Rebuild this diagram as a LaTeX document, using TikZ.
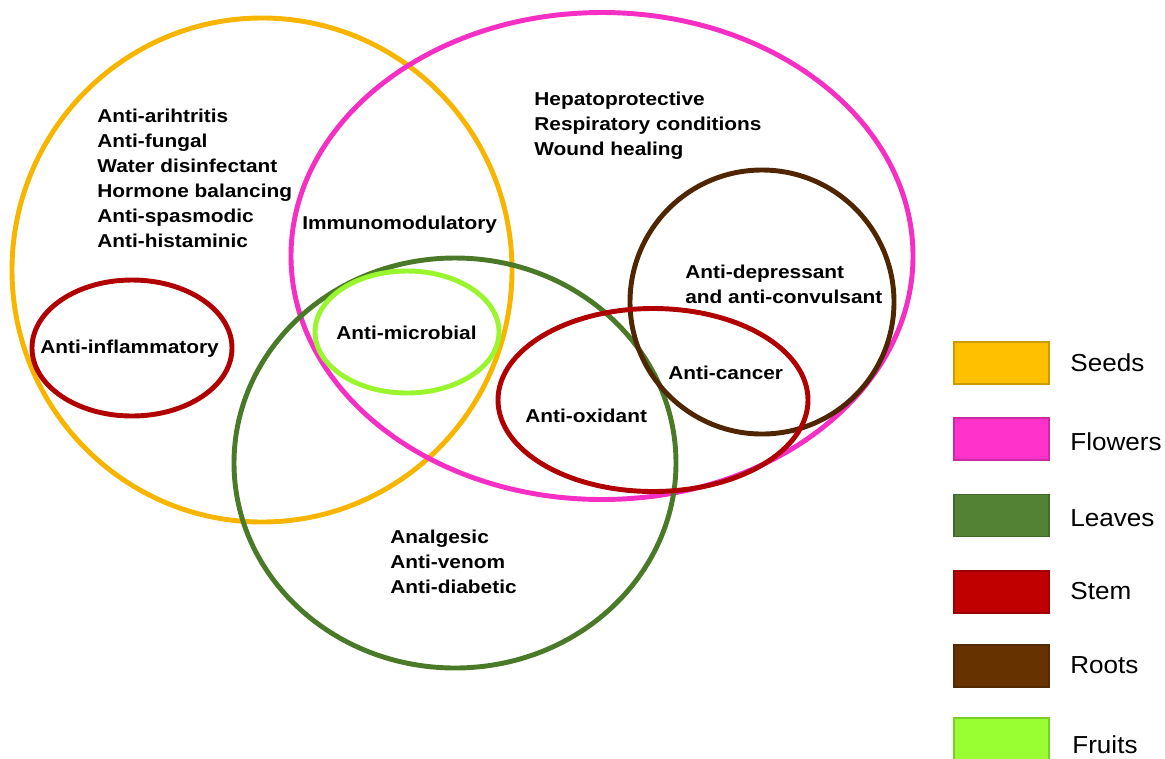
\documentclass[tikz,border=0pt]{standalone}
\usepackage{fontspec}
\setmainfont{Liberation Sans}
\newfontfamily\lblfont{Liberation Sans}[FakeStretch=1.12]
\newfontfamily\keyfont{Liberation Sans}[FakeStretch=1.06]
\usetikzlibrary{shapes.geometric}
\definecolor{cseed}{HTML}{FFC000}
\definecolor{cseedl}{HTML}{F7B500}
\definecolor{cflow}{HTML}{FF33CC}
\definecolor{cflowl}{HTML}{F52EC4}
\definecolor{cleaf}{HTML}{548235}
\definecolor{cleafl}{HTML}{4A7A28}
\definecolor{cstem}{HTML}{C00000}
\definecolor{cstemd}{HTML}{B00000}
\definecolor{croot}{HTML}{663300}
\definecolor{crootl}{HTML}{4F2600}
\definecolor{cfruit}{HTML}{99FF33}
\definecolor{cfruitl}{HTML}{99F52E}
\tikzset{
  setring/.style={ellipse, draw=#1, line width=2.8pt, inner sep=0pt, outer sep=0pt},
  lbl/.style={font=\lblfont\bfseries\fontsize{10.6}{14.2}\selectfont, align=left, anchor=west, inner sep=0pt, text=black},
  keybox/.style={draw=#1!80!black, fill=#1, line width=0.6pt, minimum width=95*0.02cm, minimum height=42*0.02cm, inner sep=0pt},
  keytxt/.style={font=\keyfont\fontsize{14}{16}\selectfont, anchor=west, inner sep=0pt}
}
\begin{document}
\begin{tikzpicture}[x=0.02cm,y=-0.02cm]
\useasboundingbox (0,0) rectangle (1165,758);
% sets
\node[setring=cseedl, minimum width=500*0.02cm, minimum height=504*0.02cm] (seeds) at (262,270) {};
\node[setring=cflowl, minimum width=622*0.02cm, minimum height=487*0.02cm] (flowers) at (602,256) {};
\node[setring=cleafl, minimum width=442*0.02cm, minimum height=410*0.02cm] (leaves) at (455,463) {};
\node[setring=cfruitl, minimum width=184*0.02cm, minimum height=122*0.02cm] (fruits) at (407,332) {};
\node[setring=crootl, minimum width=264*0.02cm, minimum height=264*0.02cm] (roots) at (762,302) {};
\node[setring=cstemd, minimum width=200*0.02cm, minimum height=136*0.02cm] (steminf) at (132,348) {};
\node[setring=cstemd, minimum width=310*0.02cm, minimum height=183*0.02cm] (stemox) at (653,400) {};
% labels
\node[lbl] (tseeds) at (97,178) {Anti-arihtritis\\Anti-fungal\\Water disinfectant\\Hormone balancing\\Anti-spasmodic\\Anti-histaminic};
\node[lbl] (tflow) at (534,126) {Hepatoprotective\\Respiratory conditions\\Wound healing};
\node[lbl] (timm) at (302,225) {Immunomodulatory};
\node[lbl] (tmic) at (336,333) {Anti-microbial};
\node[lbl] (tinf) at (40,349) {Anti-inflammatory};
\node[lbl] (troot) at (685,284) {Anti-depressant\\and anti-convulsant};
\node[lbl] (tcan) at (668,373) {Anti-cancer};
\node[lbl] (tox) at (525,416) {Anti-oxidant};
\node[lbl] (tleaf) at (390,562) {Analgesic\\Anti-venom\\Anti-diabetic};
% legend
\node[keybox=cseed] (kseed) at (1001.5,363) {};
\node[keybox=cflow] (kflow) at (1001.5,439) {};
\node[keybox=cleaf] (kleaf) at (1001.5,515.5) {};
\node[keybox=cstem] (kstem) at (1001.5,592) {};
\node[keybox=croot] (kroot) at (1001.5,666) {};
\node[keybox=cfruit] (kfruit) at (1001.5,739) {};
\node[keytxt] (lseed) at (1070,363) {Seeds};
\node[keytxt] (lflow) at (1070,442) {Flowers};
\node[keytxt] (lleaf) at (1070,518) {Leaves};
\node[keytxt] (lstem) at (1070,591) {Stem};
\node[keytxt] (lroot) at (1070,665) {Roots};
\node[keytxt] (lfruit) at (1072,745) {Fruits};
\end{tikzpicture}
\end{document}
